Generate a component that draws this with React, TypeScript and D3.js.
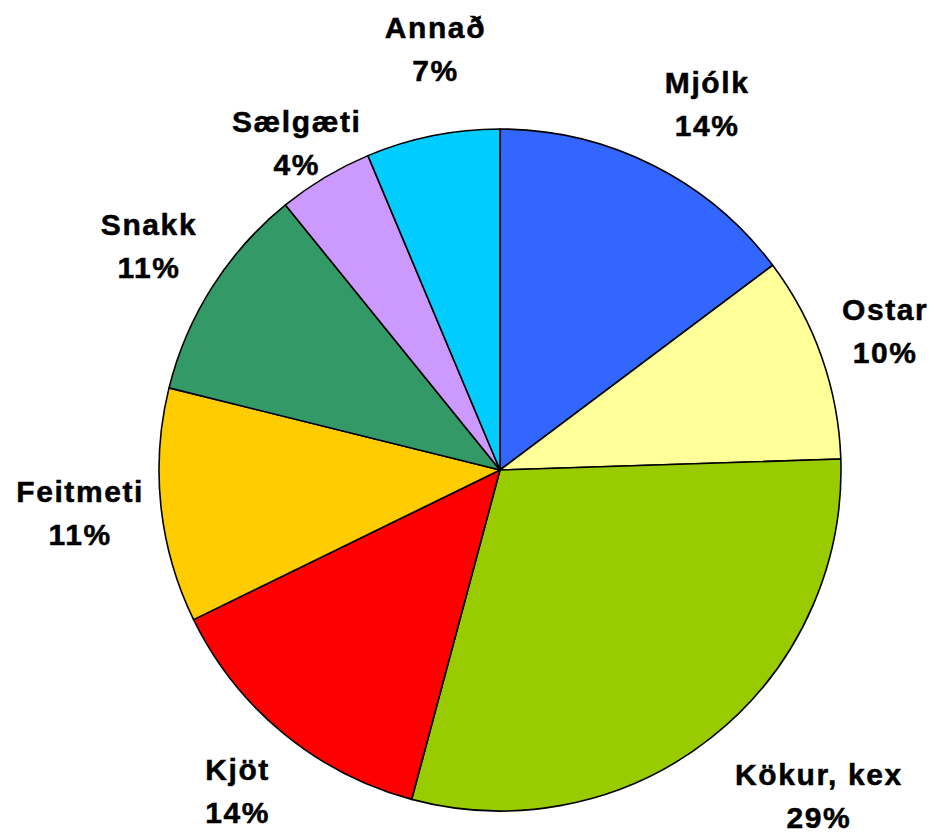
import React from "react";
import * as d3 from "d3";

const categories = ["Mjólk", "Ostar", "Kökur, kex", "Kjöt", "Feitmeti", "Snakk", "Sælgæti", "Annað"];
const values = [14.75, 9.74, 29.68, 13.6, 11.1, 10.3, 4.5, 6.33];
const percentLabels = ["14%", "10%", "29%", "14%", "11%", "11%", "4%", "7%"];
const colors = ["#3366FF", "#FFFF99", "#99CC00", "#FF0000", "#FFCC00", "#339966", "#CC99FF", "#00CCFF"];

// layout tweaks for label placement (pixels)
const labelShift: [number, number][] = [
  [20, 8], [-9, 0], [59, 0], [2, 0], [-6, 0], [0, 0], [10, 31], [17, -12],
];

const W = 934;
const H = 833;
const cx = 500;
const cy = 470;
const R = 341;
const labelR = 417;

export default function App() {
  const pie = d3.pie<number>().sort(null).value((d) => d)(values);
  const arc = d3.arc<d3.PieArcDatum<number>>().innerRadius(0).outerRadius(R);
  return (
    <svg width={W} height={H} style={{ position: "absolute", left: 0, top: 0, background: "#fff" }}>
      <g transform={`translate(${cx},${cy})`}>
        {pie.map((p, i) => (
          <path key={i} d={arc(p) || ""} fill={colors[i]} stroke="#000" strokeWidth={1.6} strokeLinejoin="round" />
        ))}
      </g>
      {pie.map((p, i) => {
        const a = (p.startAngle + p.endAngle) / 2;
        const x = cx + labelR * Math.sin(a) + labelShift[i][0];
        const y = cy - labelR * Math.cos(a) + labelShift[i][1];
        return (
          <text
            key={i}
            textAnchor="middle"
            fontFamily="'Liberation Sans', Arial, sans-serif"
            fontWeight="bold"
            fontSize={30}
            letterSpacing={1.6}
            fill="#000"
            stroke="#000"
            strokeWidth={0.5}
          >
            <tspan x={x + 0.8} y={y - 11.5}>{categories[i]}</tspan>
            <tspan x={x + 0.8} y={y + 31.5}>{percentLabels[i]}</tspan>
          </text>
        );
      })}
    </svg>
  );
}
